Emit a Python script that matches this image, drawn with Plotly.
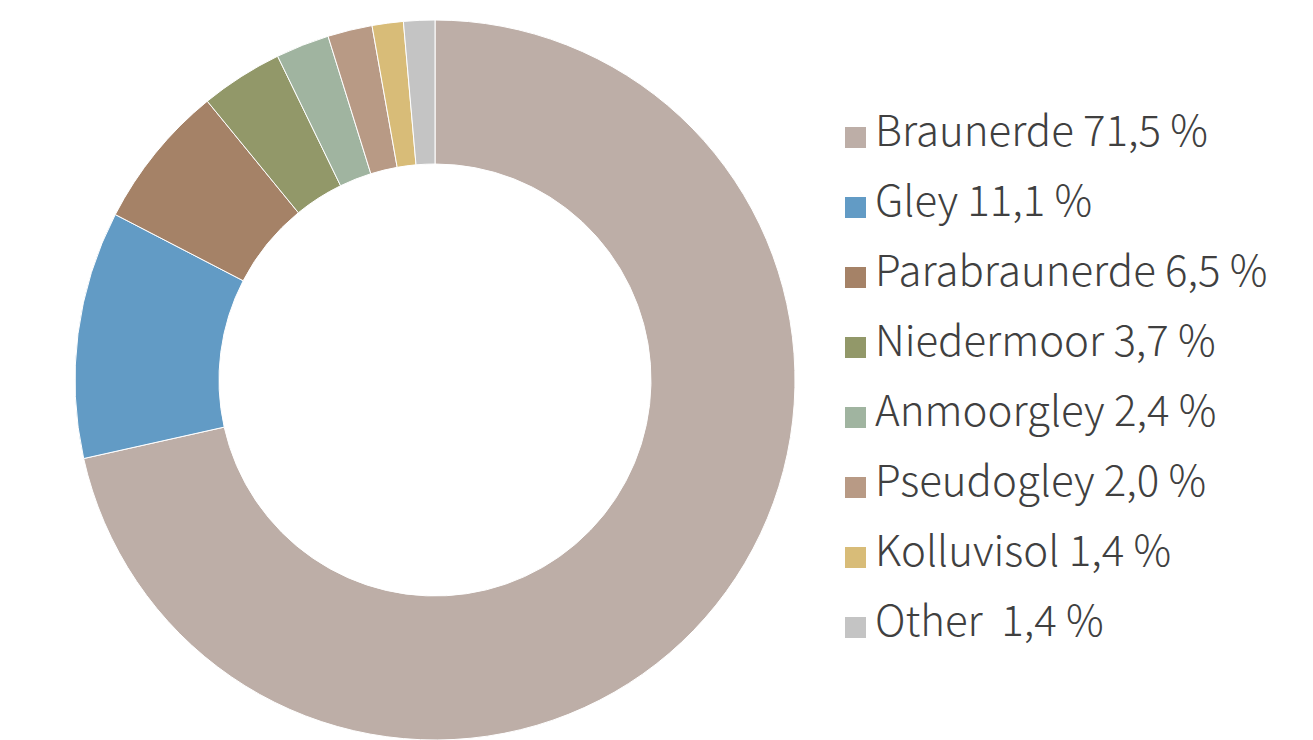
import plotly.graph_objects as go

categories = ["Braunerde", "Gley", "Parabraunerde", "Niedermoor", "Anmoorgley",
              "Pseudogley", "Kolluvisol", "Other"]
values = [71.5, 11.1, 6.5, 3.7, 2.4, 2.0, 1.4, 1.4]
label_texts = ["Braunerde 71,5 %", "Gley 11,1 %", "Parabraunerde 6,5 %", "Niedermoor 3,7 %",
               "Anmoorgley 2,4 %", "Pseudogley 2,0 %", "Kolluvisol 1,4 %", "Other\u00a0 1,4 %"]
colors = ["#BDAEA7", "#629BC5", "#A58267", "#929869", "#A0B4A0", "#B89A85", "#D8BC78", "#C4C4C4"]

W, H = 1313, 740
cx, r = 435, 362

fig = go.Figure()
fig.add_trace(go.Pie(
    labels=categories, values=values, sort=False, direction="clockwise", rotation=0,
    hole=0.6, marker=dict(colors=colors, line=dict(color="#FFFFFF", width=1)),
    textinfo="none", hoverinfo="label+percent", showlegend=False,
    domain=dict(x=[(cx - r) / W, (cx + r) / W], y=[0, 1 - 20 / H]),
))

# legend drawn as a scatter on a hidden axis
idx = list(range(len(categories)))
top_px, step_px = 137.5, 70.0
y_top = -top_px / step_px
y_bot = (H - top_px) / step_px
mx = 855.5
fig.add_trace(go.Scatter(
    x=[0] * len(idx), y=idx, mode="markers", xaxis="x", yaxis="y",
    marker=dict(symbol="square", size=21, color=colors, line=dict(width=0)),
    cliponaxis=False, showlegend=False, hoverinfo="skip",
))
for i, t in zip(idx, label_texts):
    fig.add_annotation(x=0, y=i, xref="x", yref="y", text=t, showarrow=False,
                       xanchor="left", yanchor="middle", xshift=17, yshift=10,
                       font=dict(family="Noto Sans CJK JP", size=42, weight=300, color="#404040"))

fig.update_layout(
    width=W, height=H, margin=dict(l=0, r=0, t=0, b=0),
    paper_bgcolor="#FFFFFF", plot_bgcolor="rgba(0,0,0,0)",
    xaxis=dict(range=[-1, 1], domain=[(mx - 300) / W, (mx + 300) / W], visible=False, fixedrange=True),
    yaxis=dict(range=[y_bot, y_top], domain=[0, 1], visible=False, fixedrange=True),
)
fig.write_html("out.html")
